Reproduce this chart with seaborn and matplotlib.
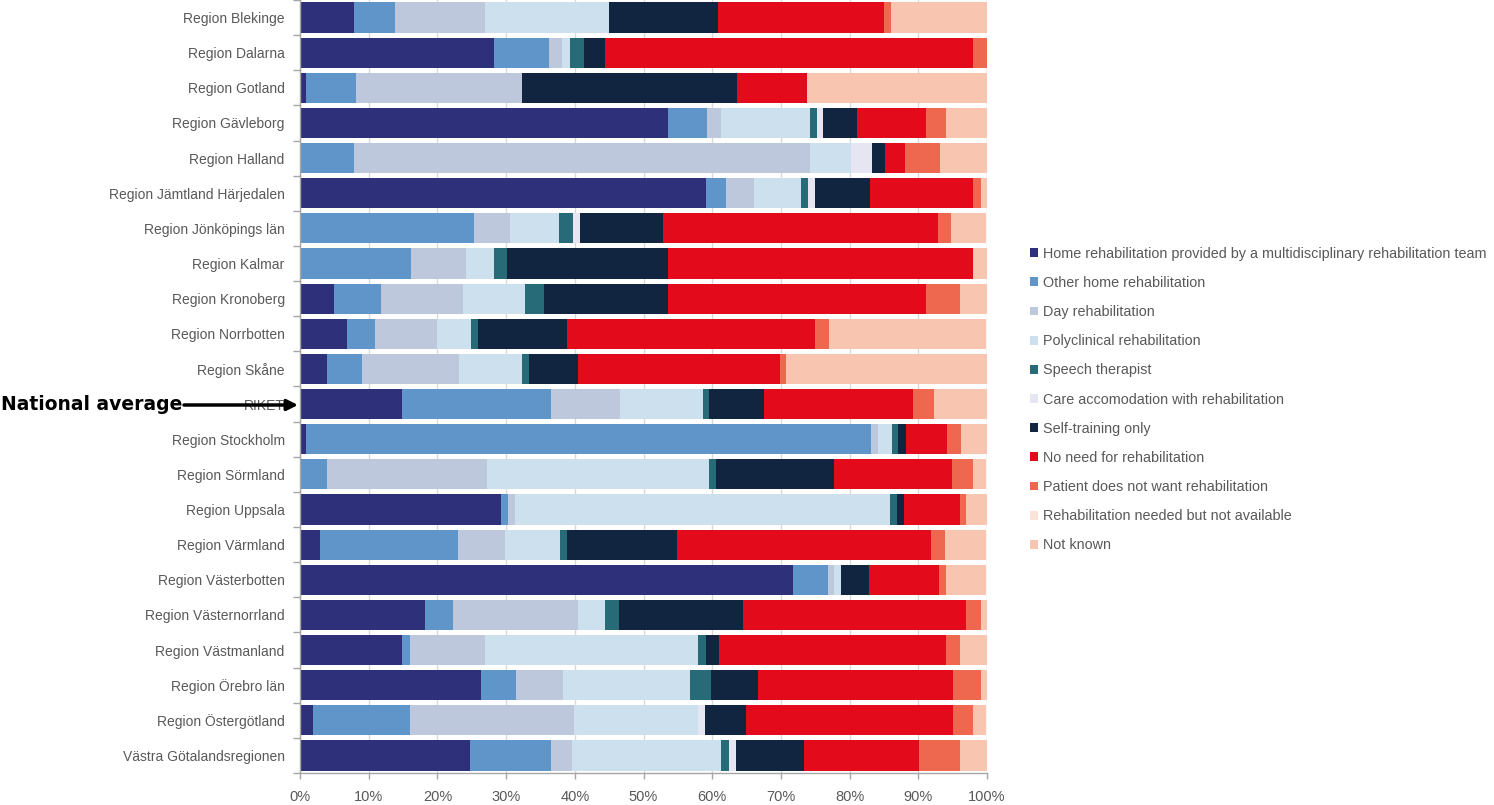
import numpy as np
import pandas as pd
import matplotlib
matplotlib.use("Agg")
import matplotlib.pyplot as plt
from matplotlib.patches import Patch
import seaborn as sns

regions = ["Region Blekinge", "Region Dalarna", "Region Gotland", "Region Gävleborg",
           "Region Halland", "Region Jämtland Härjedalen", "Region Jönköpings län",
           "Region Kalmar", "Region Kronoberg", "Region Norrbotten", "Region Skåne",
           "RIKET", "Region Stockholm", "Region Sörmland", "Region Uppsala",
           "Region Värmland", "Region Västerbotten", "Region Västernorrland",
           "Region Västmanland", "Region Örebro län", "Region Östergötland",
           "Västra Götalandsregionen"]

categories = ["Home rehabilitation provided by a multidisciplinary rehabilitation team",
              "Other home rehabilitation", "Day rehabilitation",
              "Polyclinical rehabilitation", "Speech therapist",
              "Care accomodation with rehabilitation", "Self-training only",
              "No need for rehabilitation", "Patient does not want rehabilitation",
              "Rehabilitation needed but not available", "Not known"]

home_team = [7.9, 28.2, 0.9, 53.5, 0, 59.1, 0, 0, 4.9, 6.9, 4.0, 14.8, 0.9, 0, 29.3, 2.9, 71.7, 18.2, 14.9, 26.4, 1.9, 24.8]
other_home = [6.0, 8.0, 7.2, 5.8, 7.9, 2.9, 25.4, 16.1, 6.9, 4.0, 5.0, 21.8, 82.2, 4.0, 1.0, 20.1, 5.1, 4.0, 1.1, 5.0, 14.1, 11.8]
day_rehab = [13.1, 2.0, 24.2, 2.0, 66.3, 4.1, 5.2, 8.1, 11.9, 9.0, 14.2, 10.0, 1.1, 23.2, 1.0, 6.9, 1.0, 18.2, 11.0, 6.9, 23.9, 3.0]
polyclinical = [18.0, 1.1, 0, 12.9, 6.0, 6.8, 7.1, 4.0, 9.0, 5.0, 9.1, 12.0, 1.9, 32.4, 54.6, 8.0, 1.0, 4.0, 31.0, 18.5, 18.0, 21.7]
speech = [0, 2.1, 0, 1.0, 0, 1.1, 2.0, 2.0, 2.8, 1.0, 1.0, 0.9, 1.0, 1.0, 1.0, 1.0, 0, 2.1, 1.1, 3.0, 0, 1.1]
care_accom = [0, 0, 0, 1.0, 3.0, 1.0, 1.0, 0, 0, 0, 0, 0, 0, 0, 0, 0, 0, 0, 0, 0, 1.1, 1.0]
self_training = [15.9, 3.0, 31.3, 4.9, 1.9, 8.0, 12.2, 23.3, 18.0, 13.0, 7.1, 8.0, 1.1, 17.1, 1.0, 16.0, 4.0, 18.0, 1.9, 6.8, 5.9, 10.0]
no_need = [24.1, 53.6, 10.2, 10.0, 3.0, 15.0, 39.9, 44.5, 37.6, 36.0, 29.4, 21.8, 6.0, 17.2, 8.1, 37.0, 10.2, 32.5, 33.1, 28.5, 30.2, 16.7]
not_want = [1.0, 2.0, 0, 3.0, 5.0, 1.1, 2.0, 0, 5.0, 2.1, 1.0, 3.0, 2.0, 3.0, 1.0, 2.0, 1.0, 2.1, 2.0, 4.0, 2.8, 6.0]
not_available = [0, 0, 0, 0, 0, 0, 0, 0, 0, 0, 0, 0, 0, 0, 0, 0, 0, 0, 0, 0, 0, 0]
not_known = [14.0, 0, 26.2, 5.9, 6.9, 0.9, 5.0, 2.0, 4.0, 22.9, 29.2, 7.9, 4.0, 2.0, 3.0, 5.9, 5.9, 0.9, 4.0, 0.9, 2.0, 4.0]

x_ticks = [0, 10, 20, 30, 40, 50, 60, 70, 80, 90, 100]
x_tick_labels = [f"{t}%" for t in x_ticks]

colors = ["#2E3079", "#5F95C8", "#BEC8DC", "#CCE0EE", "#276B78", "#E6E6F2",
          "#122540", "#E30A1C", "#EE6850", "#FBE3DA", "#F8C5B0"]

series = [home_team, other_home, day_rehab, polyclinical, speech, care_accom,
          self_training, no_need, not_want, not_available, not_known]

sns.set_theme(style="white")
plt.rcParams["font.family"] = ["Liberation Sans", "DejaVu Sans"]
text_color = "#595959"

fig = plt.figure(figsize=(14.94, 8.05), dpi=100)
ax = fig.add_axes([300 / 1494, 32 / 805, 687 / 1494, 773 / 805])

cum = np.cumsum(np.array(series, dtype=float), axis=0)
df = pd.DataFrame({"region": regions})
for i in range(len(series) - 1, -1, -1):
    df["v"] = cum[i]
    sns.barplot(data=df, x="v", y="region", order=regions, color=colors[i],
                orient="h", width=0.86, linewidth=0, saturation=1, ax=ax,
                errorbar=None, zorder=2)

ax.set_xlim(0, 100)
ax.set_ylim(len(regions) - 0.5, -0.5)
ax.set_xlabel("")
ax.set_ylabel("")
ax.set_xticks(x_ticks)
ax.set_xticklabels(x_tick_labels, color=text_color, fontsize=10.5)
ax.set_yticks(range(len(regions)))
ax.set_yticklabels(regions, color=text_color, fontsize=10)
ax.set_yticks(np.arange(-0.5, len(regions)), minor=True)
ax.tick_params(axis="y", which="major", length=0, pad=11)
ax.tick_params(axis="y", which="minor", length=5, color="#A6A6A6", width=1, left=True)
ax.tick_params(axis="x", which="major", length=4, color="#A6A6A6", width=1, bottom=True, pad=8)
ax.grid(axis="x", color="#D9D9D9", linewidth=1, zorder=0)
ax.grid(axis="y", visible=False)
ax.set_axisbelow(True)
for s in ["top", "right"]:
    ax.spines[s].set_visible(False)
for s in ["left", "bottom"]:
    ax.spines[s].set_color("#A6A6A6")
    ax.spines[s].set_linewidth(1)

handles = [Patch(facecolor=c, edgecolor="none", label=l) for c, l in zip(colors, categories)]
fig.legend(handles=handles, loc="upper left", bbox_to_anchor=(1024 / 1494, 1 - 241 / 805),
           frameon=False, fontsize=10.4, labelcolor=text_color, handlelength=0.55,
           handleheight=0.55, handletextpad=0.35, labelspacing=1.05, borderaxespad=0)

y_nat = 1 - 405 / 805
fig.text(0.0005, y_nat, "National average", fontsize=13.5, fontweight="bold",
         color="black", va="center", ha="left", family=["DejaVu Sans"])
ax.annotate("", xy=(298 / 1494, y_nat), xytext=(184 / 1494, y_nat),
            xycoords="figure fraction", textcoords="figure fraction",
            arrowprops=dict(arrowstyle="-|>", lw=2.5, color="black", mutation_scale=16,
                            shrinkA=0, shrinkB=0))

fig.savefig("out.png", dpi=100)
